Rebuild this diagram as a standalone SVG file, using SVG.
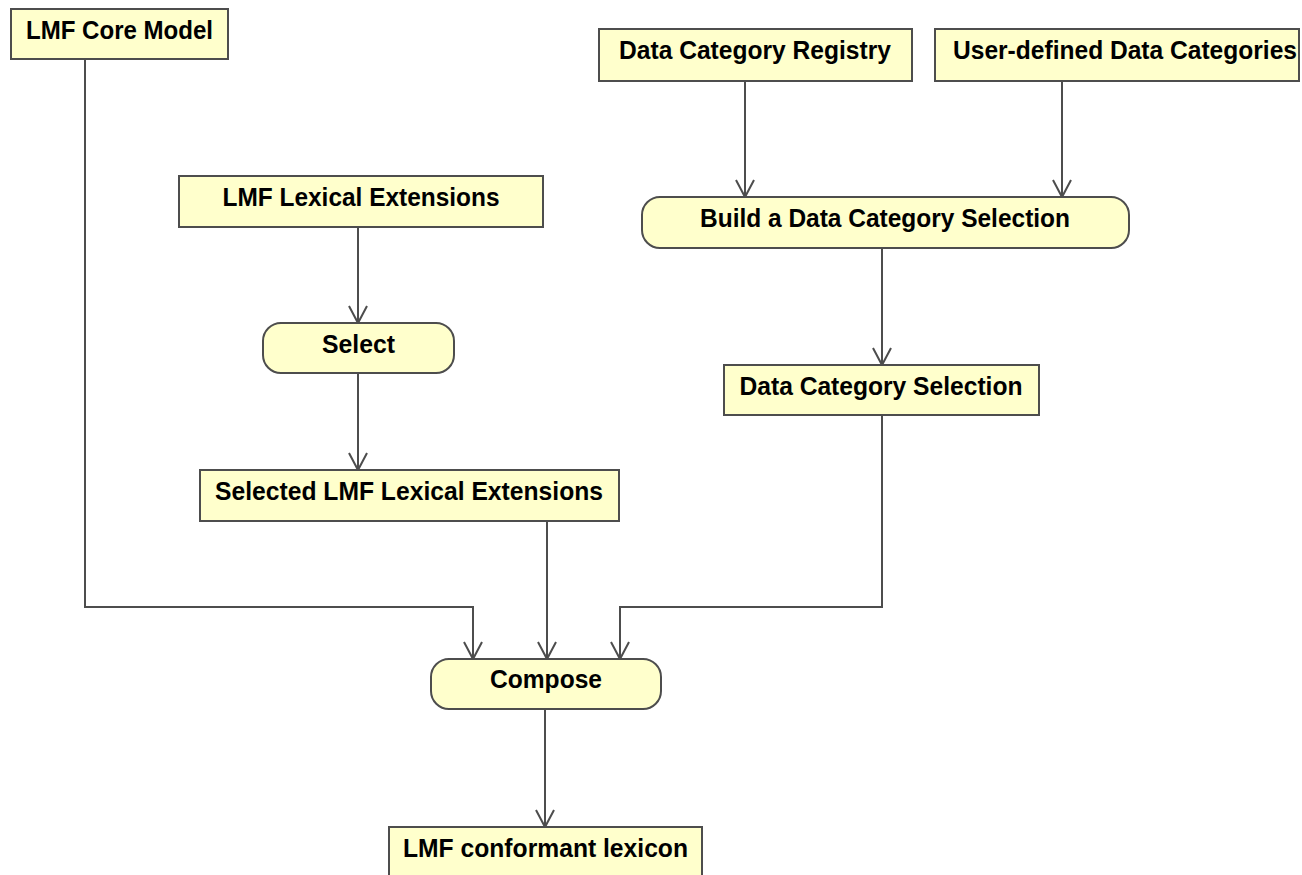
<svg xmlns="http://www.w3.org/2000/svg" width="1302" height="875" viewBox="0 0 1302 875">
<defs>
<style>
.box{fill:#ffffcc;stroke:#4d4d4d;stroke-width:2}
.t{font-family:"Liberation Sans",Arial,sans-serif;font-weight:bold;font-size:25px;fill:#000;text-anchor:middle}
.c{fill:none;stroke:#4d4d4d;stroke-width:2}
.ah{fill:none;stroke:#4d4d4d;stroke-width:2}
</style>
</defs>
<rect width="1302" height="875" fill="#ffffff"/>
<g id="connectors">
<path class="c" d="M85,59 V607 H473 V659"/>
<path class="ah" d="M464,642 L473,659 L482,642"/>
<path class="c" d="M745,81 V197"/>
<path class="ah" d="M736,180 L745,197 L754,180"/>
<path class="c" d="M1062,81 V197"/>
<path class="ah" d="M1053,180 L1062,197 L1071,180"/>
<path class="c" d="M358,227 V323"/>
<path class="ah" d="M349,306 L358,323 L367,306"/>
<path class="c" d="M358,373 V470"/>
<path class="ah" d="M349,453 L358,470 L367,453"/>
<path class="c" d="M882,248 V365"/>
<path class="ah" d="M873,348 L882,365 L891,348"/>
<path class="c" d="M547,521 V659"/>
<path class="ah" d="M538,642 L547,659 L556,642"/>
<path class="c" d="M882,415 V607 H620 V659"/>
<path class="ah" d="M611,642 L620,659 L629,642"/>
<path class="c" d="M545,709 V827"/>
<path class="ah" d="M536,810 L545,827 L554,810"/>
</g>
<g id="lmf-core-model">
<rect class="box" x="11" y="9" width="217" height="50"/>
<text class="t" x="119.5" y="38.5" textLength="187" lengthAdjust="spacingAndGlyphs">LMF Core Model</text>
</g>
<g id="data-category-registry">
<rect class="box" x="599" y="29" width="313" height="52"/>
<text class="t" x="755" y="59" textLength="272" lengthAdjust="spacingAndGlyphs">Data Category Registry</text>
</g>
<g id="user-defined-data-categories">
<rect class="box" x="935" y="29" width="364" height="52"/>
<text class="t" x="1125" y="59" textLength="344" lengthAdjust="spacingAndGlyphs">User-defined Data Categories</text>
</g>
<g id="lmf-lexical-extensions">
<rect class="box" x="179" y="176" width="364" height="51"/>
<text class="t" x="361" y="206" textLength="277" lengthAdjust="spacingAndGlyphs">LMF Lexical Extensions</text>
</g>
<g id="build-dcs">
<rect class="box" x="642" y="197" width="487" height="51" rx="18" ry="18"/>
<text class="t" x="885" y="227" textLength="370" lengthAdjust="spacingAndGlyphs">Build a Data Category Selection</text>
</g>
<g id="select">
<rect class="box" x="263" y="323" width="191" height="50" rx="18" ry="18"/>
<text class="t" x="358.5" y="353" textLength="73" lengthAdjust="spacingAndGlyphs">Select</text>
</g>
<g id="selected-lmf-lexical-extensions">
<rect class="box" x="200" y="470" width="419" height="51"/>
<text class="t" x="409" y="500" textLength="388" lengthAdjust="spacingAndGlyphs">Selected LMF Lexical Extensions</text>
</g>
<g id="data-category-selection">
<rect class="box" x="724" y="365" width="315" height="50"/>
<text class="t" x="881" y="395" textLength="283" lengthAdjust="spacingAndGlyphs">Data Category Selection</text>
</g>
<g id="compose">
<rect class="box" x="431" y="659" width="230" height="50" rx="18" ry="18"/>
<text class="t" x="546" y="688" textLength="112" lengthAdjust="spacingAndGlyphs">Compose</text>
</g>
<g id="lmf-conformant-lexicon">
<rect class="box" x="389" y="827" width="313" height="52"/>
<text class="t" x="545.5" y="857" textLength="285" lengthAdjust="spacingAndGlyphs">LMF conformant lexicon</text>
</g>
</svg>
